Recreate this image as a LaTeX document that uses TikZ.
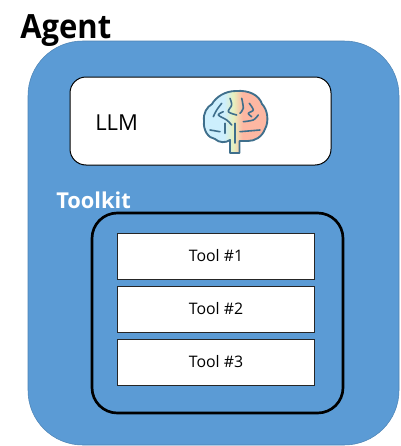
\documentclass[tikz,border=0pt]{standalone}
\usepackage{fontspec}
\setmainfont{Open Sans}
\newfontfamily\agentfont[FakeStretch=.93]{Open Sans}
\definecolor{agentblue}{HTML}{5B9BD5}
\definecolor{brainline}{HTML}{3F6F8C}
\definecolor{brainl}{HTML}{CDEFFD}
\definecolor{brainm}{HTML}{E6F0BE}
\definecolor{brainr}{HTML}{FDB7A2}
\pgfdeclarehorizontalshading{brainshade}{100bp}{color(0bp)=(brainl); color(25bp)=(brainl); color(41bp)=(brainl); color(48bp)=(brainm); color(55bp)=(brainr); color(75bp)=(brainr); color(100bp)=(brainr)}
\tikzset{
  agentbox/.style={draw=agentblue!85!black,line width=.4pt,fill=agentblue,rounded corners=41pt},
  llmbox/.style={draw=black,line width=.75pt,fill=white,rounded corners=12pt},
  kitbox/.style={draw=black,line width=2pt,rounded corners=19pt},
  toolbox/.style={draw=black!85,line width=.6pt,fill=white,minimum width=148pt,minimum height=34.5pt,inner sep=0pt,font=\fontsize{11.9pt}{14pt}\selectfont},
  fold/.style={draw=brainline,line width=1.2pt,line cap=round,line join=round},
}
\begin{document}
\begin{tikzpicture}[x=.75pt,y=-.75pt]
\useasboundingbox (0,0) rectangle (400,446);
\path[fill=white] (0,0) rectangle (400,446);
\draw[agentbox] (28,41) rectangle (399,445);
\node[font=\agentfont\fontsize{25pt}{30pt}\bfseries\selectfont,anchor=base west,inner sep=0pt] (agent) at (20,38) {Agent};
\draw[llmbox] (70,77) rectangle (331,165);
\node[font=\fontsize{16.5pt}{20pt}\selectfont,anchor=base west,inner sep=0pt] (llm) at (95,130) {LLM};
\node[font=\fontsize{16.4pt}{20pt}\bfseries\selectfont,text=white,anchor=base west,inner sep=0pt] (toolkit) at (56,208) {Toolkit};
\draw[kitbox] (92,213) rectangle (343,413);
\node[toolbox] (t1) at (216,256) {Tool \#1};
\node[toolbox] (t2) at (216,309) {Tool \#2};
\node[toolbox] (t3) at (216,362) {Tool \#3};
% brain
\draw[fold,line width=1.4pt,shading=brainshade]
  (230,153) -- (230,140) .. controls (226,143) and (219,143) .. (215,139)
  .. controls (208,138) and (203,130) .. (204,121)
  .. controls (203,113) and (207,107) .. (212,104)
  .. controls (216,97) and (225,91) .. (236,91)
  .. controls (249,90) and (259,95) .. (262,104)
  .. controls (268,110) and (269,122) .. (265,129)
  .. controls (262,137) and (255,141) .. (248,141)
  -- (239.5,141) -- (239.5,153) -- cycle;
\draw[fold] plot[smooth] coordinates {(230,98.3) (231.7,105) (228.3,111.7) (236.7,115)};
\draw[fold] plot[smooth] coordinates {(241.7,98.3) (243.3,108.3) (240,113.3)};
\draw[fold] plot[smooth] coordinates {(249.3,103.3) (253.3,110) (248.3,113.3) (251.7,116.7)};
\draw[fold] plot[smooth] coordinates {(221.7,103.3) (216.7,110) (213.3,116.7)};
\draw[fold] plot[smooth] coordinates {(223.3,111.7) (218.3,115) (226.7,120) (231.7,125)};
\draw[fold] (210,130) -- (220,131.7);
\draw[fold] (225,123.3) -- (225,133.3);
\draw[fold] (235,123.3) -- (235,143);
\draw[fold] (240,131.7) -- (260,130);
\draw[fold] plot[smooth] coordinates {(243.3,121.7) (253.3,120) (258.3,115)};
\end{tikzpicture}
\end{document}
